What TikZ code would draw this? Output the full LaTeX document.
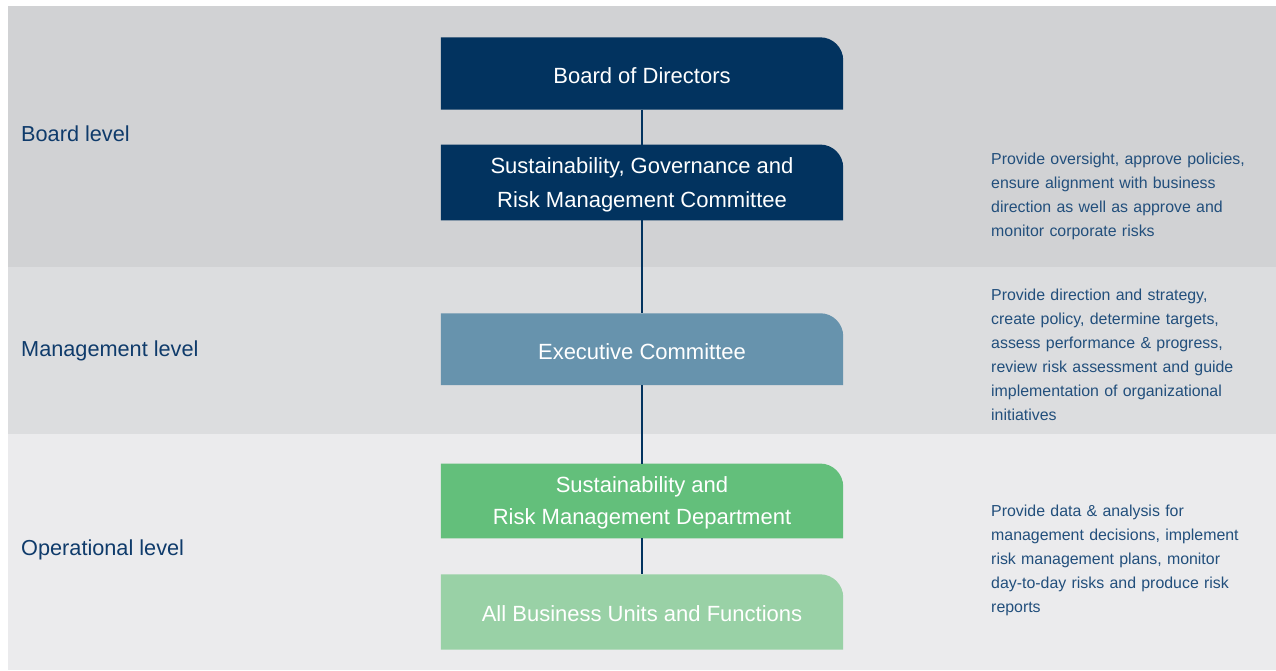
\documentclass[tikz,border=0pt]{standalone}
\usepackage{fontspec}
\setmainfont{Liberation Sans}
\definecolor{bandA}{HTML}{D1D2D4}
\definecolor{bandB}{HTML}{DCDDDF}
\definecolor{bandC}{HTML}{EBEBED}
\definecolor{navy}{HTML}{02335F}
\definecolor{steel}{HTML}{6793AD}
\definecolor{green}{HTML}{63BF7B}
\definecolor{lgreen}{HTML}{99D1A6}
\definecolor{lbl}{HTML}{0F3B6B}
\definecolor{desc}{HTML}{224F7C}
\pgfdeclarelayer{background}
\pgfsetlayers{background,main}
\tikzset{
  box/.style={minimum width=402pt, inner sep=0pt, text=white, align=center,
    font=\fontsize{22}{34}\selectfont},
  level/.style={anchor=west, text=lbl, inner sep=0pt, font=\fontsize{21.7}{24}\selectfont},
  descr/.style={anchor=west, text=desc, inner sep=0pt, align=left, text width=280pt,
    font=\fontsize{15.9}{24}\selectfont},
  link/.style={draw=navy, line width=1.4pt}
}
% fill is drawn 2pt above the node box, so that the text sits 2pt lower
\newcommand{\tabfill}[2]{%
  \begin{pgfonlayer}{background}
    \fill[#2] ([yshift=2pt]#1.south west) -- ([yshift=2pt]#1.north west) [rounded corners=23pt] -- ([yshift=2pt]#1.north east) [sharp corners] -- ([yshift=2pt]#1.south east) -- cycle;
  \end{pgfonlayer}}
\begin{document}
\begin{tikzpicture}[x=1pt,y=-1pt]
\useasboundingbox (0,0) rectangle (1276,670);
\begin{pgfonlayer}{background}
  \fill[bandA] (8,6) rectangle (1276,267);
  \fill[bandB] (8,267) rectangle (1276,434);
  \fill[bandC] (8,434) rectangle (1276,670);
\end{pgfonlayer}
% boxes
\node[box, minimum height=72pt] (bod) at (642,75.5) {Board of Directors};
\node[box, minimum height=75.5pt] (sgrm) at (642,184.5) {Sustainability, Governance and\\Risk Management Committee};
\node[box, minimum height=71.5pt] (exe) at (642,351.2) {Executive Committee};
\node[box, minimum height=74.5pt, font=\fontsize{22}{31.5}\selectfont] (srm) at (642,503) {Sustainability and\\Risk Management Department};
\node[box, minimum height=75pt] (abu) at (642,614) {All Business Units and Functions};
\tabfill{bod}{navy}
\tabfill{sgrm}{navy}
\tabfill{exe}{steel}
\tabfill{srm}{green}
\tabfill{abu}{lgreen}
% connectors
\draw[link] ([yshift=2pt]bod.south) -- ([yshift=2pt]sgrm.north);
\draw[link] ([yshift=2pt]sgrm.south) -- ([yshift=2pt]exe.north);
\draw[link] ([yshift=2pt]exe.south) -- ([yshift=2pt]srm.north);
\draw[link] ([yshift=2pt]srm.south) -- ([yshift=2pt]abu.north);
% level labels
\node[level] (lb) at (21,133.5) {Board level};
\node[level] (lm) at (21,350.5) {Management level};
\node[level] (lo) at (21,549.5) {Operational level};
% descriptions
\node[descr] (db) at (991,196.5) {Provide oversight, approve policies,\\ensure alignment with business\\direction as well as approve and\\monitor corporate risks};
\node[descr] (dm) at (991,354.5) {Provide direction and strategy,\\create policy, determine targets,\\assess performance \& progress,\\review risk assessment and guide\\implementation of organizational\\initiatives};
\node[descr] (do) at (991,560.5) {Provide data \& analysis for\\management decisions, implement\\risk management plans, monitor\\day-to-day risks and produce risk\\reports};
\end{tikzpicture}
\end{document}
